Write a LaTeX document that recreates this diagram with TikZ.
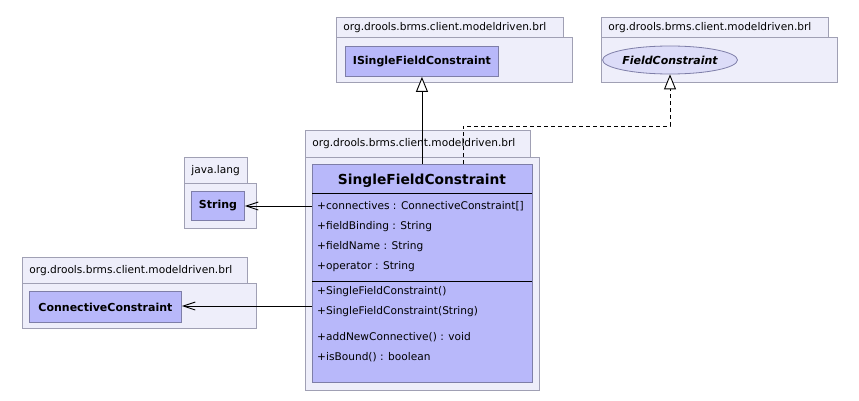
\documentclass[tikz,border=0pt]{standalone}
\usepackage{fontspec}
\setmainfont{DejaVu Sans}
\usetikzlibrary{arrows.meta,shapes.geometric}
\definecolor{pkgfill}{HTML}{EEEEFA}
\definecolor{pkgborder}{HTML}{A0A0B4}
\definecolor{clsfill}{HTML}{B8B8FA}
\definecolor{clsborder}{HTML}{7E7EA8}
\definecolor{ellfill}{HTML}{DCDCF8}
\begin{document}
\begin{tikzpicture}[x=1pt,y=-1pt,
  pkgtab/.style={draw=pkgborder,fill=pkgfill,line width=0.8pt,anchor=north west,inner xsep=7pt,inner ysep=0pt,align=left,font=\fontsize{10.6}{12}\selectfont},
  pkgbody/.style={draw=pkgborder,fill=pkgfill,line width=0.8pt,anchor=north west,inner sep=0pt},
  cls/.style={draw=clsborder,fill=clsfill,line width=0.9pt,anchor=north west,inner sep=0pt,font=\bfseries\fontsize{11}{13}\selectfont},
  member/.style={anchor=west,inner sep=0pt,text height=8pt,text depth=2pt,font=\fontsize{10.6}{12}\selectfont},
  sepline/.style={line width=0.9pt,black},
  assoc/.style={line width=0.8pt,-{Straight Barb[length=12pt,width=8pt,line width=0.9pt]}},
  inh/.style={line width=0.8pt,-{Triangle[open,length=15pt,width=12pt,fill=white,line width=0.9pt]}},
  real/.style={inh,dash pattern=on 4pt off 3pt}]
\useasboundingbox[fill=white] (0,0) rectangle (859,401);

% top middle package
\node[pkgtab,minimum width=227pt,minimum height=20pt,text width=213pt] (tabA) at (336,17) {org.drools.brms.client.modeldriven.brl};
\node[pkgbody,minimum width=236pt,minimum height=45pt] (pkgA) at (336,37) {};
\node[cls,minimum width=153pt,minimum height=30pt] (iface) at (345,46) {ISingleFieldConstraint};

% top right package
\node[pkgtab,minimum width=227pt,minimum height=20pt,text width=213pt] (tabB) at (601,17) {org.drools.brms.client.modeldriven.brl};
\node[pkgbody,minimum width=236pt,minimum height=45pt] (pkgB) at (601,37) {};
\node[ellipse,draw=clsborder,fill=ellfill,line width=0.8pt,inner sep=0pt,minimum width=122pt,minimum height=28pt,font=\bfseries\itshape\fontsize{11}{13}\selectfont] (fc) at (670,60) {FieldConstraint};

% java.lang package
\node[pkgtab,minimum width=63pt,minimum height=26pt,text width=49pt] (tabC) at (184,157) {java.lang};
\node[pkgbody,minimum width=72pt,minimum height=45pt] (pkgC) at (184,183) {};
\node[cls,minimum width=53pt,minimum height=29pt] (str) at (191,191) {String};

% connective package
\node[pkgtab,minimum width=225pt,minimum height=26pt,text width=211pt] (tabD) at (22,257) {org.drools.brms.client.modeldriven.brl};
\node[pkgbody,minimum width=234pt,minimum height=45pt] (pkgD) at (22,283) {};
\node[cls,minimum width=152pt,minimum height=31pt] (cc) at (29,291) {ConnectiveConstraint};

% main package
\node[pkgtab,minimum width=225pt,minimum height=27pt,text width=211pt] (tabM) at (305,130) {org.drools.brms.client.modeldriven.brl};
\node[pkgbody,minimum width=234pt,minimum height=233pt] (pkgM) at (305,157) {};
\node[cls,minimum width=220pt,minimum height=218pt] (scf) at (312,164) {};
\node[font=\bfseries\fontsize{13.8}{16}\selectfont,inner sep=0pt] (title) at (422,181) {SingleFieldConstraint};
\draw[sepline] (312,193) -- (532,193);
\draw[sepline] (312,281) -- (532,281);
\node[member] (a1) at (317,206) {+connectives : ConnectiveConstraint[]};
\node[member] (a2) at (317,226) {+fieldBinding : String};
\node[member] (a3) at (317,246) {+fieldName : String};
\node[member] (a4) at (317,266) {+operator : String};
\node[member] (m1) at (317,291) {+SingleFieldConstraint()};
\node[member] (m2) at (317,311) {+SingleFieldConstraint(String)};
\node[member] (m3) at (317,337) {+addNewConnective() : void};
\node[member] (m4) at (317,357) {+isBound() : boolean};

% connectors
\coordinate (strIn) at (scf.west |- 0,206);
\coordinate (ccIn) at (scf.west |- 0,306);
\draw[assoc] (strIn) -- (str.east |- strIn);
\draw[assoc] (ccIn) -- (cc.east |- ccIn);
\draw[inh] (scf.north -| iface.south) -- (iface.south);
\coordinate (rs) at (463,164);
\coordinate (rb) at (fc.south |- 0,126);
\draw[real] (rs) -- (rs |- rb) -- (rb) -- (fc.south);
\end{tikzpicture}
\end{document}
